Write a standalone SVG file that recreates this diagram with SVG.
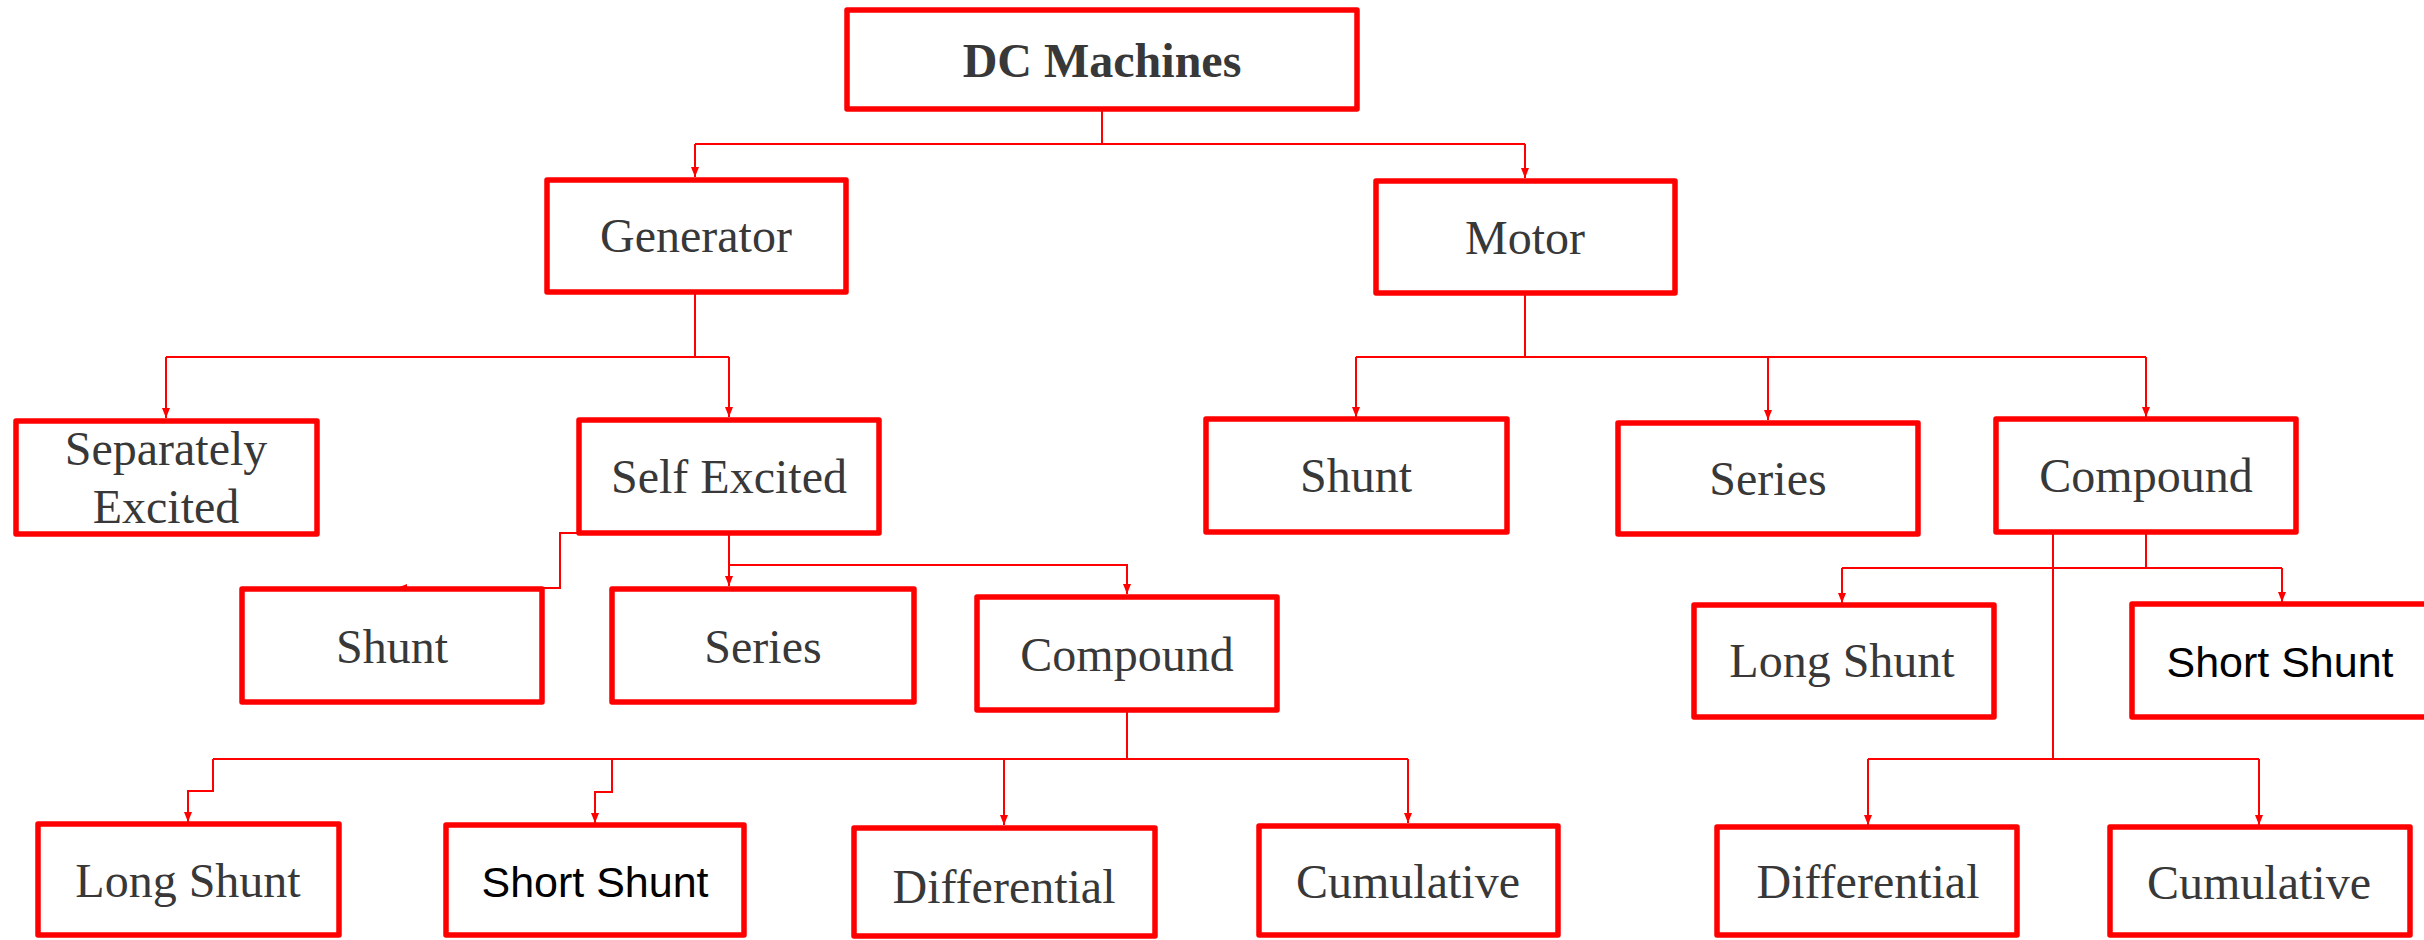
<svg xmlns="http://www.w3.org/2000/svg" width="2424" height="940" viewBox="0 0 2424 940">
<defs>
<marker id="arr" markerUnits="userSpaceOnUse" markerWidth="11" markerHeight="9" refX="10" refY="4" orient="auto">
<path d="M0,0 L10,4 L0,8 z" fill="#ff0000"/>
</marker>
<style>
.box{fill:#ffffff;stroke:#ff0000;stroke-width:5.5;stroke-linejoin:round}
.t{font-family:"Liberation Serif","Times New Roman",serif;font-size:48px;fill:#383838;text-anchor:middle}
.b{font-weight:bold}
.s{font-family:"Liberation Sans",Arial,sans-serif;font-size:43px;fill:#000000;text-anchor:middle}
.c{fill:none;stroke:#ff0000;stroke-width:2}
.a{fill:none;stroke:#ff0000;stroke-width:2;marker-end:url(#arr)}
</style>
</defs>
<rect width="2424" height="940" fill="#ffffff"/>
<g id="connectors">
<path class="c" d="M1102,109 V144 M695,144 H1525"/>
<path class="a" d="M695,144 V177"/>
<path class="a" d="M1525,144 V178"/>
<path class="c" d="M695,292 V357 M166,357 H729"/>
<path class="a" d="M166,357 V418"/>
<path class="a" d="M729,357 V417"/>
<path class="a" d="M729,533 H560 V588 H397"/>
<path class="a" d="M729,533 V586"/>
<path class="a" d="M729,565 H1127 V594"/>
<path class="c" d="M1127,710 V759 M213,759 H1408"/>
<path class="a" d="M213,759 V791 H188 V822"/>
<path class="a" d="M612,759 V792 H595 V823"/>
<path class="a" d="M1004,759 V825"/>
<path class="a" d="M1408,759 V823"/>
<path class="c" d="M1525,293 V357 M1356,357 H2146"/>
<path class="a" d="M1356,357 V417"/>
<path class="a" d="M1768,357 V420"/>
<path class="a" d="M2146,357 V417"/>
<path class="c" d="M2146,532 V568 M1842,568 H2282 M2053,532 V759 M1868,759 H2259"/>
<path class="a" d="M1842,568 V603"/>
<path class="a" d="M2282,568 V602"/>
<path class="a" d="M1868,759 V825"/>
<path class="a" d="M2259,759 V825"/>
</g>
<g id="dc-machines"><rect class="box" x="847" y="10" width="510" height="99"/><text class="t b" x="1102" y="77">DC Machines</text></g>
<g id="generator"><rect class="box" x="547" y="180" width="299" height="112"/><text class="t" x="696" y="252">Generator</text></g>
<g id="motor"><rect class="box" x="1376" y="181" width="299" height="112"/><text class="t" x="1525" y="254">Motor</text></g>
<g id="separately-excited"><rect class="box" x="16" y="421" width="301" height="113"/><text class="t" x="166" y="465">Separately</text><text class="t" x="166" y="523">Excited</text></g>
<g id="self-excited"><rect class="box" x="579" y="420" width="300" height="113"/><text class="t" x="729" y="493">Self Excited</text></g>
<g id="gen-shunt"><rect class="box" x="242" y="589" width="300" height="113"/><text class="t" x="392" y="663">Shunt</text></g>
<g id="gen-series"><rect class="box" x="612" y="589" width="302" height="113"/><text class="t" x="763" y="663">Series</text></g>
<g id="gen-compound"><rect class="box" x="977" y="597" width="300" height="113"/><text class="t" x="1127" y="671">Compound</text></g>
<g id="gen-long-shunt"><rect class="box" x="38" y="824" width="301" height="111"/><text class="t" x="188" y="897">Long Shunt</text></g>
<g id="gen-short-shunt"><rect class="box" x="446" y="825" width="298" height="110"/><text class="s" x="595" y="897">Short Shunt</text></g>
<g id="gen-differential"><rect class="box" x="854" y="828" width="301" height="108"/><text class="t" x="1004" y="903">Differential</text></g>
<g id="gen-cumulative"><rect class="box" x="1259" y="826" width="299" height="109"/><text class="t" x="1408" y="898">Cumulative</text></g>
<g id="motor-shunt"><rect class="box" x="1206" y="419" width="301" height="113"/><text class="t" x="1356" y="492">Shunt</text></g>
<g id="motor-series"><rect class="box" x="1618" y="423" width="300" height="111"/><text class="t" x="1768" y="495">Series</text></g>
<g id="motor-compound"><rect class="box" x="1996" y="419" width="300" height="113"/><text class="t" x="2146" y="492">Compound</text></g>
<g id="motor-long-shunt"><rect class="box" x="1694" y="605" width="300" height="112"/><text class="t" x="1842" y="677">Long Shunt</text></g>
<g id="motor-short-shunt"><rect class="box" x="2132" y="604" width="300" height="113"/><text class="s" x="2280" y="677">Short Shunt</text></g>
<g id="motor-differential"><rect class="box" x="1717" y="827" width="300" height="108"/><text class="t" x="1868" y="898">Differential</text></g>
<g id="motor-cumulative"><rect class="box" x="2110" y="827" width="300" height="108"/><text class="t" x="2259" y="899">Cumulative</text></g>
</svg>
